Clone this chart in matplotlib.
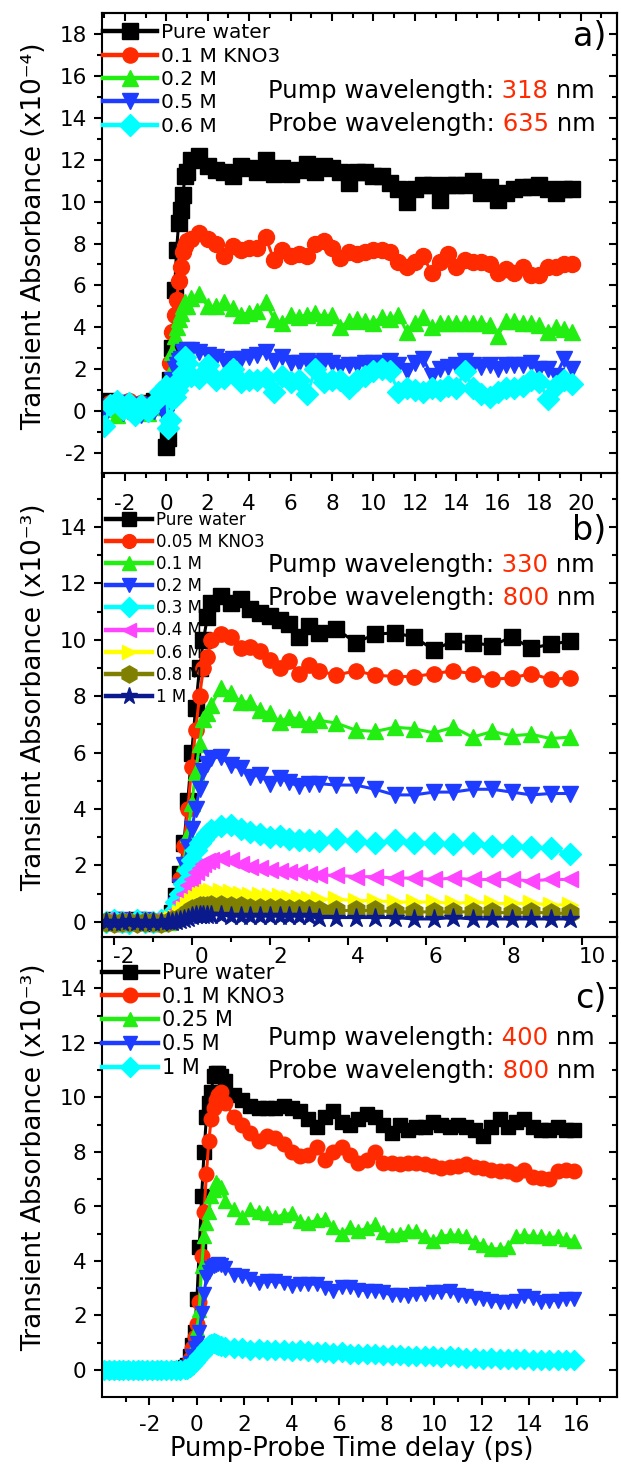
import numpy as np
import matplotlib.pyplot as plt
import matplotlib.transforms as mtransforms
from matplotlib.ticker import FixedLocator

plt.rcParams['font.family'] = ['DejaVu Sans']
plt.rcParams['axes.unicode_minus'] = False

# ---------------- panel a (x10^-4) ----------------
t_a = [-3.0, -2.7, -2.4, -2.1, -1.8, -1.5, -1.2, -0.9, -0.6, -0.3,
       0.0, 0.1, 0.2, 0.3, 0.4, 0.5, 0.6, 0.7, 0.8, 0.9, 1.0,
       1.2, 1.6, 2.0, 2.4, 2.8, 3.2, 3.6, 4.0, 4.4, 4.8, 5.2, 5.6, 6.0, 6.4, 6.8, 7.2,
       7.6, 8.0, 8.4, 8.8, 9.2, 9.6, 10.0, 10.4, 10.8, 11.2, 11.6, 12.0, 12.4, 12.8,
       13.2, 13.6, 14.0, 14.4, 14.8, 15.2, 15.6, 16.0, 16.4, 16.8, 17.2, 17.6, 18.0,
       18.4, 18.8, 19.2, 19.6]
a_water = [0.3, 0.5, 0.2, 0.4, 0.1, 0.3, 0.0, 0.4, 0.5, 0.6,
           -1.7, -1.3, 1.5, 3.0, 5.8, 7.7, 9.0, 9.6, 10.3, 11.2, 11.4,
           12.0, 12.2, 11.7, 11.5, 11.4, 11.2, 11.7, 11.6, 11.4, 12.0, 11.3, 11.6, 11.3, 11.5,
           11.8, 11.4, 11.7, 11.6, 11.4, 10.9, 11.4, 11.4, 11.2, 11.2, 10.9, 10.6, 10.0, 10.6,
           10.8, 10.8, 10.1, 10.8, 10.8, 10.8, 11.0, 10.4, 10.7, 10.1, 10.4, 10.6, 10.7, 10.7,
           10.8, 10.6, 10.4, 10.6, 10.6]
a_kno3 = [0.2, 0.4, 0.1, 0.3, 0.5, 0.2, 0.4, 0.1, 0.3, 0.5,
          0.3, 1.2, 2.3, 3.8, 4.6, 5.3, 6.2, 6.9, 7.6, 7.9, 8.1,
          8.2, 8.5, 8.2, 8.0, 7.4, 7.9, 7.7, 7.8, 7.8, 8.3, 7.2, 7.7, 7.4, 7.5, 7.4, 8.0,
          8.1, 7.8, 7.3, 7.6, 7.5, 7.6, 7.7, 7.7, 7.6, 7.1, 6.9, 7.1, 7.4, 6.6, 7.1, 7.5,
          6.9, 7.2, 7.1, 7.1, 7.0, 6.6, 6.8, 6.6, 6.9, 6.5, 6.5, 6.9, 6.9, 7.0, 7.0]
a_02 = [0.1, 0.3, -0.2, 0.2, 0.4, 0.0, 0.3, -0.1, 0.2, 0.4,
        0.2, 0.8, 1.8, 2.8, 3.6, 4.0, 4.4, 4.7, 5.0, 5.2, 5.0,
        5.4, 5.6, 5.0, 5.0, 5.2, 4.9, 4.6, 4.7, 4.8, 5.2, 4.4, 4.2, 4.6, 4.5, 4.6, 4.7,
        4.5, 4.6, 4.0, 4.3, 4.4, 4.3, 4.2, 4.5, 4.4, 4.6, 3.8, 4.2, 4.5, 4.0, 4.2, 4.2,
        4.2, 4.2, 4.2, 4.2, 4.1, 3.6, 4.3, 4.3, 4.2, 4.2, 4.1, 3.8, 4.0, 3.9, 3.8]
a_05 = [-0.3, 0.2, 0.4, -0.1, 0.3, 0.1, -0.2, 0.3, 0.0, 0.2,
        -0.3, 0.0, 0.8, 1.5, 2.0, 2.2, 2.4, 2.5, 2.8, 2.7, 2.9,
        2.9, 2.8, 2.7, 2.6, 2.4, 2.5, 2.5, 2.6, 2.7, 2.8, 2.4, 2.6, 2.3, 2.3, 2.4, 2.3,
        2.4, 2.3, 2.1, 2.2, 2.2, 2.3, 2.3, 2.3, 2.4, 2.2, 1.9, 2.3, 2.5, 1.7, 2.0, 2.1,
        2.2, 2.4, 2.2, 2.1, 2.2, 2.0, 2.2, 2.2, 2.2, 2.3, 2.0, 2.0, 1.7, 2.5, 2.0]
a_06 = [-0.7, 0.3, 0.5, 0.1, 0.4, -0.2, 0.3, 0.0, 0.4, 0.9,
        1.2, -0.8, -0.4, 0.6, 0.7, 1.0, 1.3, 1.6, 1.8, 2.6, 2.3,
        1.7, 1.6, 2.2, 1.5, 1.6, 2.0, 1.4, 1.5, 1.5, 1.6, 0.9, 1.7, 1.4, 1.5, 0.8, 2.0,
        1.4, 1.5, 1.5, 1.1, 1.5, 1.7, 1.9, 2.0, 1.9, 0.9, 1.1, 1.0, 0.9, 1.1, 1.0, 1.2,
        1.1, 1.9, 1.1, 0.8, 0.7, 0.9, 1.1, 1.1, 1.2, 1.5, 1.4, 0.6, 1.2, 1.5, 1.3]
labels_a = ['Pure water', '0.1 M KNO3', '0.2 M', '0.5 M', '0.6 M']

# ---------------- panel b (x10^-3) ----------------
t_b = [-2.2, -2.0, -1.8, -1.6, -1.4, -1.2, -1.0, -0.8, -0.6, -0.5, -0.4,
       -0.3, -0.2, -0.1, 0.0, 0.1, 0.2, 0.3, 0.4,
       0.5, 0.75, 1.0, 1.25, 1.5, 1.75, 2.0, 2.25, 2.5, 2.75, 3.0, 3.25,
       3.7, 4.2, 4.7, 5.2, 5.7, 6.2, 6.7, 7.2, 7.7, 8.2, 8.7, 9.2, 9.7]
b_water = [0.0, 0.05, -0.05, 0.0, 0.05, 0.0, -0.05, 0.0, 0.05, 0.3, 0.9,
           1.7, 2.8, 4.3, 6.0, 7.6, 9.0, 10.0, 10.8,
           11.3, 11.55, 11.3, 11.45, 11.1, 10.95, 10.85, 10.7, 10.55, 10.1, 10.5, 10.25,
           10.4, 9.9, 10.2, 10.25, 10.1, 9.65, 9.95, 9.9, 9.8, 10.1, 9.7, 9.85, 9.95]
b_kno3 = [0.0, -0.05, 0.05, 0.0, -0.05, 0.05, 0.0, 0.05, 0.0, 0.2, 0.6,
          1.5, 2.7, 4.0, 5.5, 6.8, 8.0, 9.0, 9.4,
          10.0, 10.2, 10.1, 9.7, 9.75, 9.6, 9.3, 9.0, 9.25, 8.8, 9.1, 8.9,
          8.75, 8.9, 8.75, 8.7, 8.7, 8.8, 8.9, 8.8, 8.6, 8.65, 8.8, 8.6, 8.65]
b_01 = [0.05, 0.0, -0.05, 0.05, 0.0, 0.0, 0.05, -0.05, 0.0, 0.15, 0.5,
        1.2, 2.1, 3.1, 4.2, 5.3, 6.3, 7.2, 7.4,
        7.7, 8.3, 8.1, 7.8, 7.8, 7.5, 7.4, 7.1, 7.25, 7.2, 7.0, 7.15,
        7.05, 6.8, 6.75, 6.9, 6.85, 6.7, 6.9, 6.55, 6.75, 6.6, 6.65, 6.5, 6.55]
b_02 = [-0.05, 0.0, 0.05, -0.05, 0.0, 0.05, 0.0, -0.05, 0.05, 0.15, 0.6,
        1.25, 2.0, 2.65, 3.3, 4.0, 4.7, 5.35, 5.6,
        5.8, 5.85, 5.55, 5.45, 5.15, 5.2, 4.9, 5.1, 4.95, 4.8, 4.9, 4.9,
        4.85, 4.85, 4.7, 4.5, 4.5, 4.6, 4.6, 4.7, 4.7, 4.6, 4.5, 4.55, 4.55]
b_03 = [0.0, 0.05, 0.0, -0.05, 0.05, 0.0, 0.0, 0.05, 0.1, 0.3, 0.7,
        1.0, 1.35, 1.85, 2.2, 2.55, 2.8, 2.95, 3.1,
        3.25, 3.4, 3.45, 3.3, 3.2, 3.1, 3.0, 3.05, 2.95, 2.9, 2.9, 2.85,
        2.95, 2.85, 2.8, 2.9, 2.8, 2.8, 2.75, 2.8, 2.7, 2.7, 2.65, 2.6, 2.4]
b_04 = [0.05, 0.0, 0.05, 0.0, -0.05, 0.0, 0.05, 0.0, 0.05, 0.15, 0.4,
        0.7, 1.0, 1.3, 1.5, 1.75, 1.9, 2.05, 2.15,
        2.2, 2.25, 2.2, 2.05, 1.95, 1.9, 1.85, 1.8, 1.75, 1.75, 1.7, 1.65,
        1.65, 1.6, 1.6, 1.55, 1.55, 1.5, 1.55, 1.5, 1.5, 1.5, 1.45, 1.5, 1.5]
b_06 = [-0.05, 0.0, -0.05, 0.0, 0.0, -0.05, 0.0, 0.0, 0.05, 0.1, 0.15,
        0.3, 0.45, 0.6, 0.75, 0.85, 0.95, 1.0, 1.05,
        1.1, 1.1, 1.05, 1.0, 0.95, 0.95, 0.9, 0.9, 0.85, 0.85, 0.8, 0.8,
        0.8, 0.75, 0.75, 0.7, 0.7, 0.7, 0.65, 0.7, 0.65, 0.65, 0.65, 0.6, 0.6]
b_08 = [0.0, -0.05, 0.0, 0.0, -0.05, 0.0, 0.0, -0.05, 0.0, 0.05, 0.05,
        0.15, 0.25, 0.35, 0.45, 0.5, 0.55, 0.55, 0.55,
        0.6, 0.6, 0.55, 0.55, 0.5, 0.5, 0.5, 0.5, 0.45, 0.45, 0.45, 0.4,
        0.4, 0.4, 0.4, 0.35, 0.35, 0.35, 0.35, 0.35, 0.35, 0.3, 0.35, 0.3, 0.3]
b_1 = [0.0, -0.02, 0.0, 0.02, 0.0, -0.02, 0.0, 0.0, 0.02, 0.0, 0.02,
       0.05, 0.1, 0.15, 0.2, 0.25, 0.25, 0.25, 0.25,
       0.25, 0.25, 0.2, 0.2, 0.2, 0.2, 0.2, 0.2, 0.2, 0.2, 0.2, 0.15,
       0.15, 0.15, 0.15, 0.15, 0.1, 0.1, 0.15, 0.1, 0.1, 0.1, 0.1, 0.1, 0.1]
labels_b = ['Pure water', '0.05 M KNO3', '0.1 M', '0.2 M', '0.3 M', '0.4 M',
            '0.6 M', '0.8 M', '1 M']

# ---------------- panel c (x10^-3) ----------------
t_c = [-3.9, -3.7, -3.5, -3.3, -3.1, -2.9, -2.7, -2.5, -2.3, -2.1, -1.9, -1.7,
       -1.5, -1.3, -1.1, -0.9, -0.7, -0.5,
       -0.4, -0.3, -0.2, -0.1, 0.0, 0.1, 0.2, 0.3, 0.4, 0.5, 0.6, 0.7, 0.8, 0.9, 1.0,
       1.2, 1.55, 1.9, 2.25, 2.6, 2.95, 3.3, 3.65, 4.0, 4.35, 4.7, 5.05, 5.4, 5.75,
       6.1, 6.45, 6.8, 7.15, 7.5, 7.85, 8.2, 8.55, 8.9, 9.25, 9.6, 9.95, 10.3, 10.65,
       11.0, 11.35, 11.7, 12.05, 12.4, 12.75, 13.1, 13.45, 13.8, 14.15, 14.5, 14.85,
       15.2, 15.55, 15.9]
c_water = [0.0, 0.02, -0.02, 0.0, 0.02, 0.0, -0.02, 0.0, 0.02, 0.0, -0.02, 0.0,
           0.02, 0.0, 0.0, 0.02, 0.05, 0.1,
           0.2, 0.5, 0.9, 1.4, 2.6, 4.5, 6.4, 8.0, 9.3, 9.8, 10.2, 10.8, 10.9, 10.9, 10.8,
           10.6, 10.1, 9.9, 9.7, 9.6, 9.6, 9.6, 9.7, 9.6, 9.5, 9.2, 8.9, 9.3, 9.5,
           9.1, 9.0, 9.2, 9.4, 9.3, 9.0, 8.7, 9.0, 8.8, 8.9, 8.9, 9.1, 9.0, 8.9,
           9.0, 8.9, 8.8, 8.6, 8.9, 9.2, 8.9, 9.1, 9.2, 8.9, 8.8, 8.8,
           8.9, 8.8, 8.8]
c_kno3 = [0.02, 0.0, 0.0, -0.02, 0.0, 0.02, 0.0, 0.0, -0.02, 0.0, 0.02, 0.0,
          0.0, -0.02, 0.0, 0.02, 0.05, 0.08,
          0.15, 0.4, 0.8, 1.2, 1.7, 2.5, 4.2, 5.8, 7.2, 8.4, 9.2, 9.6, 9.9, 10.1, 10.2,
          9.8, 9.3, 9.0, 8.7, 8.4, 8.6, 8.5, 8.3, 8.0, 7.85, 7.9, 8.2, 7.7, 8.0,
          8.2, 7.9, 7.6, 7.7, 8.0, 7.6, 7.6, 7.55, 7.6, 7.6, 7.55, 7.5, 7.4, 7.45,
          7.5, 7.55, 7.45, 7.4, 7.35, 7.3, 7.3, 7.2, 7.35, 7.1, 7.05, 7.0,
          7.3, 7.35, 7.3]
c_025 = [0.05, 0.07, 0.05, 0.05, 0.07, 0.05, 0.05, 0.07, 0.05, 0.05, 0.07, 0.05,
         0.05, 0.07, 0.05, 0.05, 0.07, 0.08,
         0.1, 0.3, 0.6, 0.9, 1.5, 2.2, 3.8, 4.9, 5.4, 5.8, 6.4, 6.6, 6.9, 6.8, 6.7,
         6.2, 5.9, 5.6, 5.9, 5.8, 5.75, 5.6, 5.7, 5.75, 5.45, 5.4, 5.5, 5.55, 5.25,
         5.0, 5.25, 5.1, 5.2, 5.35, 5.05, 4.95, 5.0, 5.1, 5.1, 4.9, 4.75, 4.9, 4.95,
         4.95, 4.9, 4.7, 4.6, 4.45, 4.45, 4.5, 4.9, 4.95, 4.9, 4.9, 4.85,
         4.9, 4.8, 4.75]
c_05 = [-0.06, -0.05, -0.06, -0.05, -0.06, -0.05, -0.06, -0.05, -0.06, -0.05, -0.06, -0.05,
        -0.06, -0.05, -0.06, -0.05, -0.03, 0.0,
        0.1, 0.25, 0.5, 0.8, 1.0, 1.4, 2.1, 2.8, 3.4, 3.6, 3.75, 3.8, 3.85, 3.9, 3.85,
        3.75, 3.5, 3.45, 3.35, 3.2, 3.25, 3.25, 3.2, 3.1, 3.15, 3.15, 3.15, 3.0, 2.9,
        3.05, 3.05, 2.95, 2.9, 2.9, 2.85, 2.75, 2.75, 2.7, 2.8, 2.8, 2.85, 2.85, 2.9,
        2.75, 2.7, 2.65, 2.6, 2.55, 2.5, 2.5, 2.55, 2.7, 2.65, 2.5, 2.55,
        2.55, 2.6, 2.6]
c_1 = [0.0, 0.01, 0.0, -0.01, 0.0, 0.01, 0.0, -0.01, 0.0, 0.01, 0.0, -0.01,
       0.0, 0.01, 0.0, 0.0, 0.0, 0.02,
       0.05, 0.1, 0.2, 0.3, 0.4, 0.5, 0.6, 0.7, 0.8, 0.9, 0.95, 1.0, 0.95, 0.9, 0.88,
       0.85, 0.8, 0.8, 0.75, 0.78, 0.75, 0.72, 0.75, 0.7, 0.72, 0.68, 0.65, 0.65, 0.62,
       0.65, 0.6, 0.6, 0.58, 0.6, 0.55, 0.55, 0.55, 0.52, 0.5, 0.52, 0.5, 0.48, 0.5,
       0.47, 0.45, 0.45, 0.42, 0.43, 0.4, 0.42, 0.4, 0.4, 0.38, 0.38, 0.36,
       0.37, 0.35, 0.35]
labels_c = ['Pure water', '0.1 M KNO3', '0.25 M', '0.5 M', '1 M']

colors = ['#000000', '#FF2A00', '#22EE11', '#1E3CFF', '#00FFFF',
          '#FF44FF', '#FFFF00', '#808000', '#0A1A8C']
markers = ['s', 'o', '^', 'v', 'D', '<', '>', 'h', '*']

fig = plt.figure(figsize=(6.21, 14.8), dpi=100)
fig.patch.set_facecolor('white')
L, W = 102 / 621, 515 / 621
ax_a = fig.add_axes([L, 1 - 473 / 1480, W, 460 / 1480])
ax_b = fig.add_axes([L, 1 - 936.7 / 1480, W, 463.7 / 1480])
ax_c = fig.add_axes([L, 1 - 1396.7 / 1480, W, 460 / 1480])


def draw(ax, t, series, labels, ms):
    for i, (y, lab) in enumerate(zip(series, labels)):
        m_size = ms * 1.25 if markers[i] in ('*', 'h') else ms
        ax.plot(t, y, marker=markers[i], color=colors[i], mec=colors[i], mew=1,
                ms=m_size, lw=2.2, label=lab)


def style(ax, xlim, ylim, xmaj, xmin, ymaj, ymin, xpad, top_ticks=False):
    ax.patch.set_visible(False)
    ax.set_xlim(*xlim)
    ax.set_ylim(*ylim)
    ax.xaxis.set_major_locator(FixedLocator(xmaj))
    ax.xaxis.set_minor_locator(FixedLocator(xmin))
    ax.yaxis.set_major_locator(FixedLocator(ymaj))
    ax.yaxis.set_minor_locator(FixedLocator(ymin))
    for s in ax.spines.values():
        s.set_linewidth(1.5)
    ax.tick_params(which='both', direction='out', width=1.5, labelsize=15.5,
                   top=False, right=False)
    ax.tick_params(which='major', length=6)
    ax.tick_params(which='minor', length=3.5)
    ax.tick_params(axis='x', pad=xpad)
    ax.tick_params(axis='y', pad=5)
    sec = ax.secondary_yaxis('right')
    sec.yaxis.set_major_locator(FixedLocator(ymaj))
    sec.yaxis.set_minor_locator(FixedLocator(ymin))
    sec.tick_params(which='both', direction='in', width=1.5, labelright=False)
    sec.tick_params(which='major', length=6)
    sec.tick_params(which='minor', length=3.5)
    sec.spines['right'].set_linewidth(1.5)
    if top_ticks:
        sx = ax.secondary_xaxis('top')
        sx.xaxis.set_major_locator(FixedLocator(xmaj))
        sx.xaxis.set_minor_locator(FixedLocator(xmin))
        sx.tick_params(which='both', direction='in', width=1.5, labeltop=False)
        sx.tick_params(which='major', length=6)
        sx.tick_params(which='minor', length=3.5)
        sx.spines['top'].set_linewidth(1.5)


def info(ax, y1, y2, pump, probe):
    for y, head, num in [(y1, 'Pump wavelength:', pump), (y2, 'Probe wavelength:', probe)]:
        t1 = ax.text(0.322, y, head, transform=ax.transAxes, fontsize=17.5,
                     va='baseline', ha='left')
        t2 = ax.annotate(' ' + num, xy=(1, 0), xycoords=t1, fontsize=17.5,
                         va='bottom', ha='left', color='#FF2A00')
        ax.annotate(' nm', xy=(1, 0), xycoords=t2, fontsize=17.5,
                    va='bottom', ha='left')


# panel a
draw(ax_a, t_a, [a_water, a_kno3, a_02, a_05, a_06], labels_a, 11.5)
style(ax_a, (-3.1, 21.75), (-2.95, 19.0),
      list(range(-2, 21, 2)), list(range(-3, 22, 2)),
      list(range(-2, 19, 2)), list(range(-1, 19, 2)), 9, top_ticks=True)
leg = ax_a.legend(loc='upper left', bbox_to_anchor=(0.002, 0.978), frameon=False,
                  fontsize=14.5, handlelength=2.7, handletextpad=0.2,
                  labelspacing=0.22, borderpad=0, borderaxespad=0, numpoints=1,
                  markerscale=0.95)
for h in leg.get_lines():
    h.set_linewidth(3.2)
info(ax_a, 0.815, 0.743, '318', '635')
ax_a.text(0.979, 0.95, 'a)', transform=ax_a.transAxes, fontsize=24,
          ha='right', va='center')
ax_a.set_ylabel('Transient Absorbance (x10\u207b\u2074)', fontsize=19)
ax_a.yaxis.set_label_coords(-0.107, 0.515)

# panel b
draw(ax_b, t_b, [b_water, b_kno3, b_01, b_02, b_03, b_04, b_06, b_08, b_1], labels_b, 11)
style(ax_b, (-2.3, 10.9), (-0.53, 15.92),
      list(range(-2, 11, 2)), list(range(-1, 11, 2)),
      list(range(0, 15, 2)), list(range(1, 16, 2)), 1.5)
shift = mtransforms.ScaledTranslation(10 / 100, 0, fig.dpi_scale_trans)
for tk in ax_b.xaxis.get_major_ticks():
    tk.label1.set_transform(tk.label1.get_transform() + shift)
leg = ax_b.legend(loc='upper left', bbox_to_anchor=(0.008, 0.919), frameon=False,
                  fontsize=12, handlelength=2.75, handletextpad=0.24,
                  labelspacing=0.25, borderpad=0, borderaxespad=0, numpoints=1,
                  markerscale=0.9)
for h in leg.get_lines():
    h.set_linewidth(3.2)
info(ax_b, 0.7865, 0.715, '330', '800')
ax_b.text(0.979, 0.877, 'b)', transform=ax_b.transAxes, fontsize=24,
          ha='right', va='center')
ax_b.set_ylabel('Transient Absorbance (x10\u207b\u00b3)', fontsize=19)
ax_b.yaxis.set_label_coords(-0.107, 0.517)

# panel c
draw(ax_c, t_c, [c_water, c_kno3, c_025, c_05, c_1], labels_c, 10.5)
style(ax_c, (-4.0, 17.7), (-0.98, 15.9),
      list(range(-2, 17, 2)), list(range(-3, 18, 2)),
      list(range(0, 15, 2)), list(range(1, 16, 2)), 7.5)
leg = ax_c.legend(loc='upper left', bbox_to_anchor=(0.0, 0.943), frameon=False,
                  fontsize=15, handlelength=2.7, handletextpad=0.2,
                  labelspacing=0.18, borderpad=0, borderaxespad=0, numpoints=1)
for h in leg.get_lines():
    h.set_linewidth(3.2)
info(ax_c, 0.7646, 0.6928, '400', '800')
ax_c.text(0.979, 0.865, 'c)', transform=ax_c.transAxes, fontsize=24,
          ha='right', va='center')
ax_c.set_ylabel('Transient Absorbance (x10\u207b\u00b3)', fontsize=19)
ax_c.yaxis.set_label_coords(-0.107, 0.52)
ax_c.set_xlabel('Pump-Probe Time delay (ps)', fontsize=18.5)
ax_c.xaxis.set_label_coords(0.485, -0.085)

fig.savefig('out.png', dpi=100)
